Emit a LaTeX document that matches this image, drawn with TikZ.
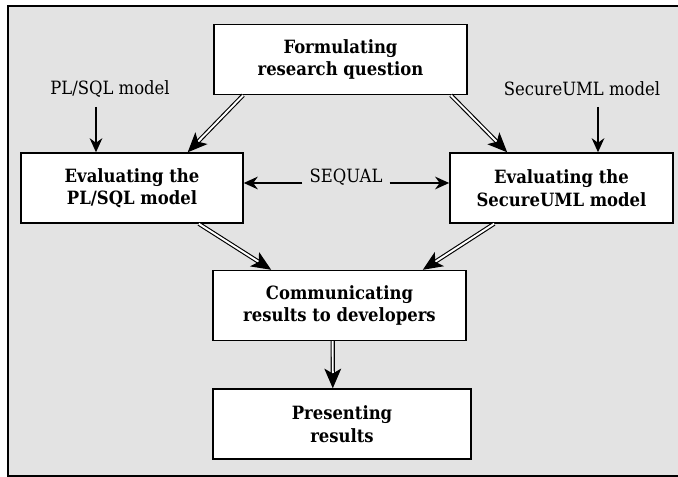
\documentclass[tikz,border=0pt]{standalone}
\usepackage{fontspec}
\setmainfont{DejaVu Serif Condensed}
\usetikzlibrary{arrows.meta}

\begin{document}
\begin{tikzpicture}[x=0.025cm,y=-0.025cm,
  stepbox/.style={draw,line width=1pt,fill=white,minimum height=1.75cm,align=center,font=\fontsize{13}{16}\selectfont\bfseries},
  tag/.style={font=\fontsize{13}{15}\selectfont},
  thinarrow/.style={line width=1.3pt,-{Stealth[length=10pt,width=9pt]}},
  dblarrow/.style={double,double distance=1.4pt,line width=0.8pt,-{Stealth[length=14pt,width=12pt,inset=3.5pt]}}]
\useasboundingbox (0,0) rectangle (678,477);
\fill [black!11] (8,6) rectangle (678,476);
\draw [line width=1.4pt] (678,6) -- (8,6) -- (8,476) -- (678,476);
\node [stepbox,minimum width=6.33cm] (form) at (340.5,59.5) {Formulating\\research question};
\node [stepbox,minimum width=5.55cm] (pl) at (132,188) {Evaluating the\\PL/SQL model};
\node [stepbox,minimum width=5.58cm] (su) at (561.5,188) {Evaluating the\\SecureUML model};
\node [stepbox,minimum width=6.33cm] (comm) at (339.5,305.5) {Communicating\\results to developers};
\node [stepbox,minimum width=6.45cm] (pres) at (342,424) {Presenting\\results};
\node [tag] (plsql) at (110,89) {PL/SQL model};
\node [tag] (suml) at (582,89) {SecureUML model};
\node [tag,anchor=base,inner xsep=5pt] (sequal) at (346,183) {SEQUAL};
\coordinate (plin) at (96,107);
\coordinate (suin) at (598,107);
\draw [thinarrow] (plin) -- (plin |- pl.north);
\draw [thinarrow] (suin) -- (suin |- su.north);
\draw [thinarrow] (sequal.base west) -- (sequal.base west -| pl.east);
\draw [thinarrow] (sequal.base east) -- (sequal.base east -| su.west);
\draw [dblarrow] ([xshift=0.75cm]form.south west) -- ([xshift=-1.4cm]pl.north east);
\draw [dblarrow] ([xshift=-0.425cm]form.south east) -- ([xshift=1.45cm]su.north west);
\draw [dblarrow] ([xshift=-1.125cm]pl.south east) -- ([xshift=1.475cm]comm.north west);
\draw [dblarrow] ([xshift=1.125cm]su.south west) -- ([xshift=-1.1cm]comm.north east);
\draw [dblarrow] ([xshift=-0.17cm]comm.south) -- ([xshift=-0.23cm]pres.north);
\end{tikzpicture}
\end{document}
